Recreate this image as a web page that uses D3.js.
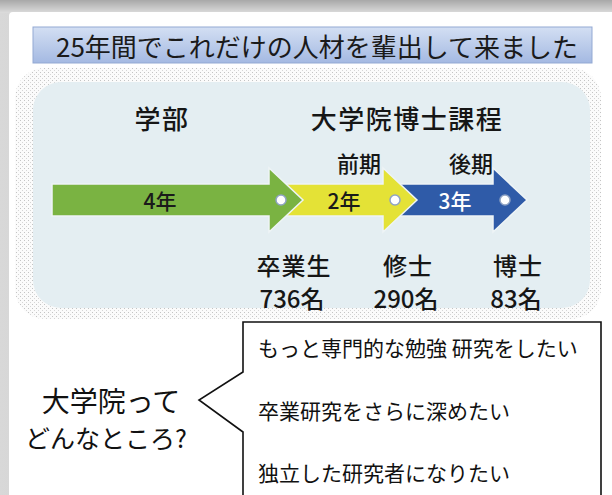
<!DOCTYPE html>
<html>
<head>
<meta charset="utf-8">
<script src="https://cdn.jsdelivr.net/npm/d3@7"></script>
<style>
  body { margin: 0; background: #fff; }
  svg { display: block; font-family: "Noto Sans CJK JP", "Noto Sans", sans-serif; }
</style>
</head>
<body>
<script>
// data
var title = "25年間でこれだけの人材を輩出して来ました"
var headers = ["学部", "大学院博士課程"]
var phases = ["前期", "後期"]
var stages = ["4年", "2年", "3年"]
var stageColors = ["#7ab342", "#e4e236", "#2f5ba8"]
var stageText = ["#1a1a1a", "#1a1a1a", "#ffffff"]
var degrees = ["卒業生", "修士", "博士"]
var counts = [736, 290, 83]
var question = ["大学院って", "どんなところ?"]
var reasons = ["もっと専門的な勉強 研究をしたい", "卒業研究をさらに深めたい", "独立した研究者になりたい"]

var W = 612, H = 495

var svg = d3.select("body").append("svg")
    .attr("width", W)
    .attr("height", H)

var defs = svg.append("defs")

var g1 = defs.append("linearGradient").attr("id", "topband").attr("x1", 0).attr("y1", 0).attr("x2", 0).attr("y2", 1)
g1.append("stop").attr("offset", "0%").attr("stop-color", "#a8a8a8")
g1.append("stop").attr("offset", "100%").attr("stop-color", "#dcdcdc")

var g2 = defs.append("linearGradient").attr("id", "leftband").attr("x1", 0).attr("y1", 0).attr("x2", 1).attr("y2", 0)
g2.append("stop").attr("offset", "0%").attr("stop-color", "#d8d8d8")
g2.append("stop").attr("offset", "100%").attr("stop-color", "#9c9c9c")

var g3 = defs.append("linearGradient").attr("id", "titlefill").attr("x1", 0).attr("y1", 0).attr("x2", 0).attr("y2", 1)
g3.append("stop").attr("offset", "0%").attr("stop-color", "#d3dff3")
g3.append("stop").attr("offset", "100%").attr("stop-color", "#a4b9e2")

var pat = defs.append("pattern").attr("id", "stipple")
    .attr("width", 4).attr("height", 4).attr("patternUnits", "userSpaceOnUse")
pat.append("rect").attr("width", 4).attr("height", 4).attr("fill", "#fbfbfb")
pat.append("rect").attr("x", 0).attr("y", 0).attr("width", 1).attr("height", 1).attr("fill", "#c4c4c4")
pat.append("rect").attr("x", 2).attr("y", 2).attr("width", 1).attr("height", 1).attr("fill", "#d6d6d6")

// frame
svg.append("rect").attr("width", W).attr("height", H).attr("fill", "url(#leftband)")
svg.append("rect").attr("width", W).attr("height", 13).attr("fill", "url(#topband)")
svg.append("rect").attr("x", 9).attr("y", 12).attr("width", W).attr("height", H)
    .attr("rx", 4).attr("fill", "#ffffff")

// title
svg.append("rect").attr("x", 33).attr("y", 27).attr("width", 559).attr("height", 36)
    .attr("fill", "url(#titlefill)").attr("stroke", "#93a9d3").attr("stroke-width", 1)
svg.append("text").attr("x", 317).attr("y", 45)
    .attr("text-anchor", "middle").attr("dominant-baseline", "central")
    .attr("font-size", 26).attr("fill", "#1a1a1a")
    .text(title)

// panel
svg.append("rect").attr("x", 15).attr("y", 68).attr("width", 586).attr("height", 251)
    .attr("rx", 30).attr("fill", "url(#stipple)")
svg.append("rect").attr("x", 33).attr("y", 82).attr("width", 557).attr("height", 226)
    .attr("rx", 28).attr("fill", "#e4eef2")

// x positions of stage boundaries (arrow tips)
var x = d3.scaleLinear().domain([0, 1, 2, 3]).range([52, 303, 417, 527])
var cy = 200, bodyH = 16, headH = 32, headW = 34

var txt = "#161616"

svg.selectAll(".hdr").data(headers).join("text")
    .attr("class", "hdr")
    .attr("x", (d, i) => i == 0 ? 162 : 407)
    .attr("y", 117)
    .attr("text-anchor", "middle").attr("dominant-baseline", "central")
    .attr("font-size", 26).attr("font-weight", 500).attr("letter-spacing", 1.5).attr("fill", txt)
    .text(d => d)

svg.selectAll(".phase").data(phases).join("text")
    .attr("class", "phase")
    .attr("x", (d, i) => (x(i + 1) + x(i + 2)) / 2 - 1)
    .attr("y", 162)
    .attr("text-anchor", "middle").attr("dominant-baseline", "central")
    .attr("font-size", 22).attr("font-weight", 500).attr("fill", txt)
    .text(d => d)

function arrowPath(i) {
    var x0 = i == 0 ? x(0) : x(i) - headW - 4
    var x1 = x(i + 1)
    var xb = x1 - headW
    var p = d3.path()
    p.moveTo(x0, cy - bodyH)
    p.lineTo(xb, cy - bodyH)
    p.lineTo(xb, cy - headH)
    p.lineTo(x1, cy)
    p.lineTo(xb, cy + headH)
    p.lineTo(xb, cy + bodyH)
    p.lineTo(x0, cy + bodyH)
    p.closePath()
    return p.toString()
}

// later stages first so earlier heads sit on top
var order = d3.range(stages.length).reverse()
svg.selectAll(".arrow").data(order).join("path")
    .attr("class", "arrow")
    .attr("d", i => arrowPath(i))
    .attr("fill", i => stageColors[i])
    .attr("stroke", "#eef4f6").attr("stroke-width", 1.5)

svg.selectAll(".yrs").data(stages).join("text")
    .attr("class", "yrs")
    .attr("x", (d, i) => i == 0 ? 160 : (i == 1 ? 344 : 455))
    .attr("y", cy)
    .attr("text-anchor", "middle").attr("dominant-baseline", "central")
    .attr("font-size", 21).attr("font-weight", 500).attr("fill", (d, i) => stageText[i])
    .text(d => d)

svg.selectAll(".dot").data(degrees).join("circle")
    .attr("class", "dot")
    .attr("cx", (d, i) => x(i + 1) - 22)
    .attr("cy", cy)
    .attr("r", 5)
    .attr("fill", "#ffffff")
    .attr("stroke", "#8fa3c4").attr("stroke-width", 1.5)

svg.selectAll(".deg").data(degrees).join("text")
    .attr("class", "deg")
    .attr("x", (d, i) => x(i + 1) - 9)
    .attr("y", 264)
    .attr("text-anchor", "middle").attr("dominant-baseline", "central")
    .attr("font-size", 24).attr("font-weight", 500).attr("letter-spacing", 1).attr("fill", txt)
    .text(d => d)

svg.selectAll(".cnt").data(counts).join("text")
    .attr("class", "cnt")
    .attr("x", (d, i) => x(i + 1) - 11)
    .attr("y", 297)
    .attr("text-anchor", "middle").attr("dominant-baseline", "central")
    .attr("font-size", 24).attr("font-weight", 500).attr("fill", txt)
    .text(d => d + "名")

// question
svg.selectAll(".q").data(question).join("text")
    .attr("class", "q")
    .attr("x", (d, i) => i == 0 ? 111 : 106)
    .attr("y", (d, i) => i == 0 ? 400 : 437)
    .attr("text-anchor", "middle").attr("dominant-baseline", "central")
    .attr("font-size", (d, i) => i == 0 ? 28 : 25).attr("fill", "#111")
    .text(d => d)

// callout box
var c = d3.path()
c.moveTo(243, H + 5)
c.lineTo(243, 432)
c.lineTo(199, 400)
c.lineTo(243, 372)
c.lineTo(243, 322)
c.lineTo(601, 322)
c.lineTo(601, H + 5)
svg.append("path").attr("d", c.toString())
    .attr("fill", "#ffffff").attr("stroke", "#111").attr("stroke-width", 1.6)

var ry = d3.scalePoint().domain(d3.range(reasons.length)).range([347, 472])
svg.selectAll(".r").data(reasons).join("text")
    .attr("class", "r")
    .attr("x", 258)
    .attr("y", (d, i) => ry(i))
    .attr("dominant-baseline", "central")
    .attr("font-size", 21).attr("fill", "#111")
    .text(d => d)
</script>
</body>
</html>
